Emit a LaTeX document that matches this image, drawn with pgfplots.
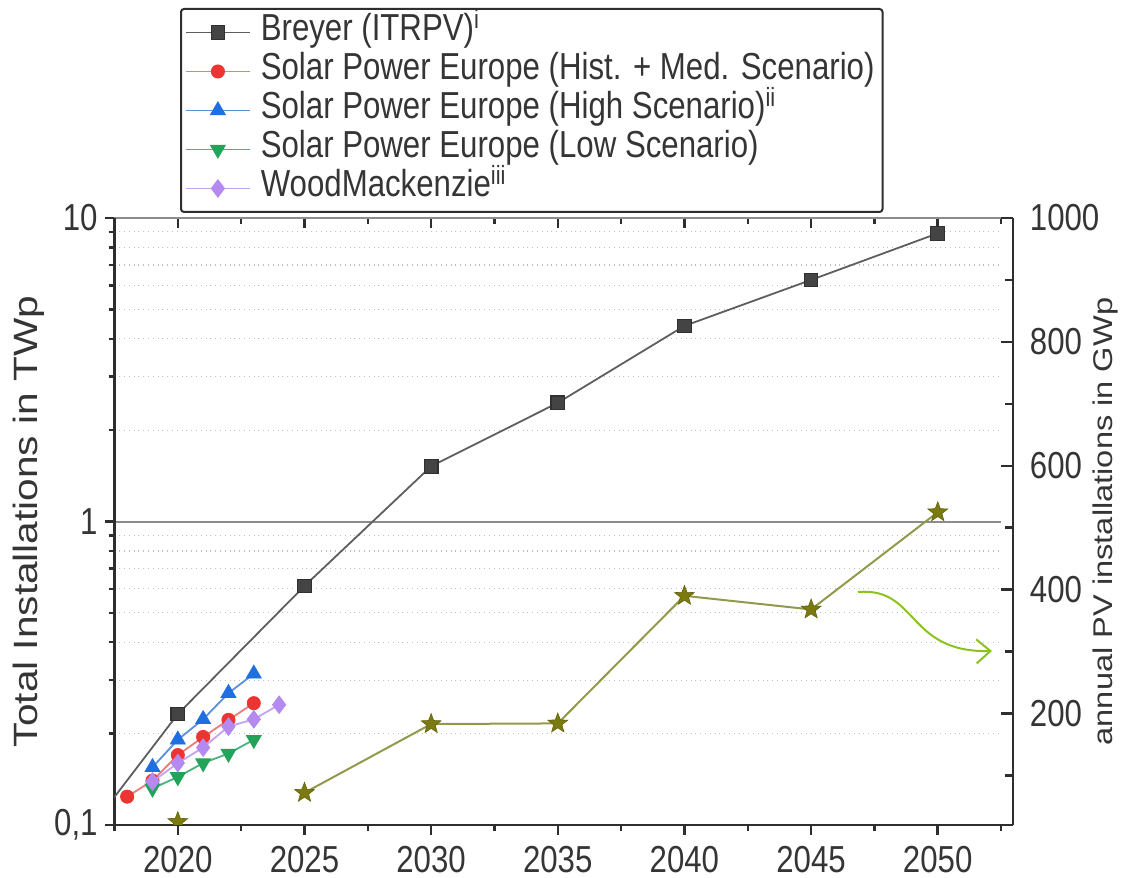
\documentclass[border=0pt]{standalone}
\usepackage{pgfplots}
\pgfplotsset{compat=1.18}
\usepackage{fontspec}
\setmainfont{Liberation Sans}[FakeStretch=0.83]
\newfontfamily\rotfont{Liberation Sans}
\usetikzlibrary{arrows.meta}
\definecolor{txt}{HTML}{353535}
\definecolor{axiscol}{HTML}{2E2E2E}
\definecolor{brline}{HTML}{5E5E5E}
\definecolor{brmark}{HTML}{444444}
\definecolor{redline}{HTML}{F07A7A}
\definecolor{redmark}{HTML}{EE3333}
\definecolor{blueline}{HTML}{5A8FDC}
\definecolor{bluemark}{HTML}{1F6FE0}
\definecolor{greenline}{HTML}{4DB07E}
\definecolor{greenmark}{HTML}{22A35A}
\definecolor{purpline}{HTML}{C3A3F0}
\definecolor{purpmark}{HTML}{B48AF0}
\definecolor{oliveline}{HTML}{929A4A}
\definecolor{olivemark}{HTML}{7A7A10}
\definecolor{arrowcol}{HTML}{8CC21E}
\pgfdeclareplotmark{fstar}{%
  \pgfpathmoveto{\pgfqpointpolar{90}{\pgfplotmarksize}}%
  \pgfpathlineto{\pgfqpointpolar{126}{0.42\pgfplotmarksize}}%
  \pgfpathlineto{\pgfqpointpolar{162}{\pgfplotmarksize}}%
  \pgfpathlineto{\pgfqpointpolar{198}{0.42\pgfplotmarksize}}%
  \pgfpathlineto{\pgfqpointpolar{234}{\pgfplotmarksize}}%
  \pgfpathlineto{\pgfqpointpolar{270}{0.42\pgfplotmarksize}}%
  \pgfpathlineto{\pgfqpointpolar{306}{\pgfplotmarksize}}%
  \pgfpathlineto{\pgfqpointpolar{342}{0.42\pgfplotmarksize}}%
  \pgfpathlineto{\pgfqpointpolar{18}{\pgfplotmarksize}}%
  \pgfpathlineto{\pgfqpointpolar{54}{0.42\pgfplotmarksize}}%
  \pgfpathclose
  \pgfusepathqfillstroke
}
\begin{document}
\begin{tikzpicture}
\fontsize{18.8}{22}\selectfont
\useasboundingbox (-57.25pt,-26.5pt) rectangle (505.25pt,412.5pt);
% top frame line with inward ticks
\begin{axis}[
  at={(0,0)}, anchor=south west, scale only axis,
  width=443.25pt, height=303.5pt,
  xmin=2017.5, xmax=2052.5, ymin=0, ymax=1,
  axis x line*=top, axis y line=none,
  xtick={2020,2025,2030,2035,2040,2045,2050}, xticklabels={},
  minor xtick={2017.5,2022.5,2027.5,2032.5,2037.5,2042.5,2047.5,2052.5},
  tick align=inside,
  axis line style={line width=1.2pt, color=axiscol},
  tick style={line width=1.2pt, color=axiscol},
  major tick length=5pt, minor tick length=3pt,
]
\end{axis}
% main axis
\begin{axis}[
  at={(0,0)}, anchor=south west, scale only axis,
  width=443.25pt, height=303.5pt,
  xmin=2017.5, xmax=2052.5, ymode=log, ymin=0.1, ymax=10,
  axis x line*=bottom, axis y line*=left,
  axis line style={line width=1.2pt, color=axiscol},
  xtick={2020,2025,2030,2035,2040,2045,2050},
  xticklabels={2020,2025,2030,2035,2040,2045,2050},
  minor xtick={2017.5,2022.5,2027.5,2032.5,2037.5,2042.5,2047.5,2052.5},
  ytick={0.1,1,10}, yticklabels={{0,1},1,10},
  minor ytick={0.2,0.3,0.4,0.5,0.6,0.7,0.8,0.9,2,3,4,5,6,7,8,9},
  tick align=outside,
  tick style={line width=1.2pt, color=axiscol},
  major tick length=5pt, minor tick length=3pt,
  ymajorgrids, yminorgrids,
  major grid style={line width=1pt, color=black!45},
  minor grid style={dotted, line width=0.6pt, color=black!25},
  ticklabel style={text=txt},
  xticklabel style={yshift=1pt},
  yticklabel style={xshift=3pt},
  ylabel={\rotfont\fontsize{20.3}{24}\selectfont\scalebox{1}[0.83]{Total Installations in TWp}},
  ylabel style={at={(axis description cs:-0.0964,0.5)}, anchor=center, text=txt},
  clip marker paths=true,
  legend cell align=left,
  legend image code/.code={\draw[mark repeat=2,mark phase=2,#1] plot coordinates {(0pt,0pt) (16pt,0pt) (32pt,0pt)};},
  legend style={at={(0.0739,1.346)}, anchor=north west, draw=axiscol, line width=1pt,
    rounded corners=1.5pt, fill=white, text=txt, inner xsep=2pt, inner ysep=2pt,
    row sep=0pt, nodes={text height=13pt, text depth=4.5pt, inner ysep=1pt},
    /tikz/every odd column/.append style={column sep=3pt}},
]
\addplot[color=brline, line width=0.9pt, mark=square*, mark size=3.4pt,
  mark options={fill=brmark, draw=brmark!70!black, line width=0.6pt}]
  coordinates {(2015,0.066)(2020,0.232)(2025,0.613)(2030,1.52)(2035,2.46)(2040,4.41)(2045,6.25)(2050,8.90)};
\addlegendentry{Breyer (ITRPV)\textsuperscript{i}}
\addplot[color=redline, line width=0.9pt, mark=*, mark size=3.3pt,
  mark options={fill=redmark, draw=redmark, line width=0.4pt}]
  coordinates {(2018,0.124)(2019,0.140)(2020,0.170)(2021,0.195)(2022,0.222)(2023,0.252)};
\addlegendentry{Solar Power Europe (Hist. + Med. Scenario)}
\addplot[color=blueline, line width=0.9pt, mark=triangle*, mark size=4.3pt,
  mark options={fill=bluemark, draw=bluemark, line width=0.4pt}]
  coordinates {(2019,0.155)(2020,0.191)(2021,0.223)(2022,0.272)(2023,0.315)};
\addlegendentry{Solar Power Europe (High Scenario)\textsuperscript{ii}}
\addplot[color=greenline, line width=0.9pt, mark=triangle*, mark size=4.3pt,
  mark options={fill=greenmark, draw=greenmark, line width=0.4pt, rotate=180}]
  coordinates {(2019,0.132)(2020,0.144)(2021,0.160)(2022,0.172)(2023,0.191)};
\addlegendentry{Solar Power Europe (Low Scenario)}
\addplot[color=purpline, line width=0.9pt, mark=diamond*, mark size=4.4pt,
  mark options={fill=purpmark, draw=purpmark, line width=0.4pt}]
  coordinates {(2019,0.139)(2020,0.160)(2021,0.180)(2022,0.211)(2023,0.223)(2024,0.249)};
\addlegendentry{WoodMackenzie\textsuperscript{iii}}
\end{axis}
% secondary axis
\begin{axis}[
  at={(0,0)}, anchor=south west, scale only axis,
  width=449.25pt, height=303.5pt,
  xmin=2017.5, xmax=2052.97, ymin=20, ymax=1000,
  axis x line=none, axis y line*=right,
  axis line style={line width=1.2pt, color=axiscol},
  ytick={200,400,600,800,1000}, yticklabels={200,400,600,800,1000},
  minor ytick={100,300,500,700,900},
  tick align=inside,
  tick style={line width=1.2pt, color=axiscol},
  major tick length=6pt, minor tick length=4pt,
  ticklabel style={text=txt},
  yticklabel style={xshift=2pt},
  ylabel={\rotfont\fontsize{16.3}{20}\selectfont\scalebox{1}[0.83]{annual PV installations in GWp}},
  ylabel style={at={(axis description cs:1.1035,0.5)}, anchor=center, text=txt},
  clip marker paths=true,
]
\addplot[only marks, mark=fstar, mark size=5.2pt,
  mark options={fill=olivemark, draw=olivemark!80!black, line width=0.3pt}]
  coordinates {(2020,25)};
\addplot[color=oliveline, line width=1pt, mark=fstar, mark size=5.2pt,
  mark options={fill=olivemark, draw=olivemark!80!black, line width=0.3pt}]
  coordinates {(2025,72)(2030,183)(2035,184)(2040,390)(2045,368)(2050,525)};
\end{axis}
% end caps of right axis
\draw[line width=1.2pt, color=axiscol] (443.25pt,303.5pt) -- (449.25pt,303.5pt);
\draw[line width=1.2pt, color=axiscol] (443.25pt,0pt) -- (449.25pt,0pt);
% curved arrow
\draw[arrowcol, line width=1pt, -{Straight Barb[length=7pt,width=12pt]}]
  (371.75pt,116.5pt) .. controls (402pt,119pt) and (396pt,86pt) .. (438.75pt,87pt);
\end{tikzpicture}
\end{document}
